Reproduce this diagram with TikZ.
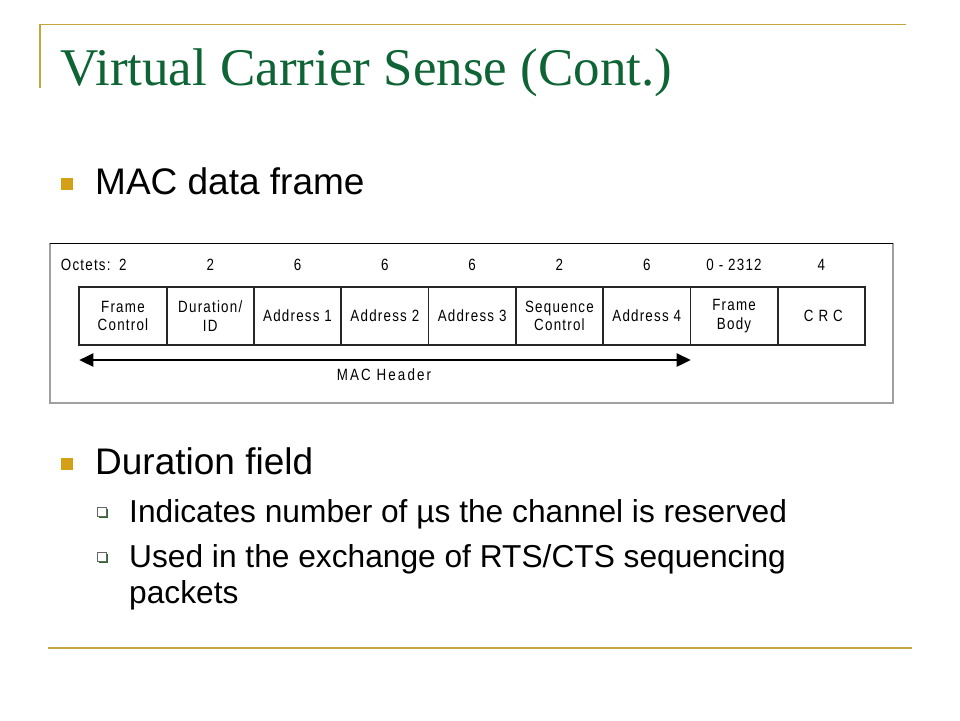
\documentclass[tikz,border=0pt]{standalone}
\usepackage{fontspec}
\setmainfont{Liberation Sans}
\newfontfamily\titlefont{Liberation Serif}
\newfontfamily\diagfont[FakeStretch=0.82,LetterSpace=7.5]{Liberation Sans}
\newfontfamily\diagwide[FakeStretch=0.82,LetterSpace=13]{Liberation Sans}
\newfontfamily\diagxwide[FakeStretch=0.82,LetterSpace=30]{Liberation Sans}
\usetikzlibrary{arrows.meta}
\definecolor{titlegreen}{RGB}{14,100,52}
\definecolor{goldline}{RGB}{196,166,58}
\definecolor{goldbullet}{RGB}{212,160,23}
\definecolor{subgreen}{RGB}{40,110,40}
\definecolor{framegray}{RGB}{160,160,160}
\tikzset{
  txt/.style={inner sep=0pt, anchor=base west},
  mainline/.style={txt, font=\fontsize{37}{44}\selectfont},
  subline/.style={txt, font=\fontsize{31.7}{38}\selectfont},
  cell/.style={draw=black!85, line width=1.8pt, minimum width=87.3pt, minimum height=58.5pt,
    inner sep=0pt, align=center, font=\diagfont\fontsize{16.3}{18.6}\selectfont},
  num/.style={inner sep=0pt, anchor=base, font=\diagfont\fontsize{16.3}{18.6}\selectfont},
  goldsq/.style={fill=goldbullet, draw=none},
  rule/.style={draw=goldline, line width=1.9pt}
}
\begin{document}
\begin{tikzpicture}[x=1pt,y=-1pt]
\useasboundingbox (0,0) rectangle (960,720);
\fill[white] (0,0) rectangle (960,720);
% title rules
\coordinate (tl) at (40,24.5);
\coordinate (tr) at (906,24.5);
\coordinate (tb) at (40,88);
\draw[rule] (tr) -- (tl) -- (tb);
\coordinate (bl) at (48,648);
\coordinate (br) at (912,648);
\draw[rule] (bl) -- (br);
% title
\node[txt, font=\titlefont\fontsize{53}{60}\selectfont, text=titlegreen] (title) at (60,85) {Virtual Carrier Sense (Cont.)};
% bullet 1
\fill[goldsq] (60.5,177.5) rectangle (73,190);
\node[mainline] (b1) at (95,194) {MAC data frame};
% diagram frame
\coordinate (fTL) at (50,243);
\coordinate (fTR) at (893,243);
\coordinate (fBR) at (893,403);
\coordinate (fBL) at (50,403);
\draw[framegray, line width=1.2pt] (fTL) -- (fBL) -- (fBR) -- (fTR);
\draw[black, line width=0.9pt] (fTL) -- (fTR);
% octets row
\node[txt, font=\diagfont\fontsize{16.3}{18.6}\selectfont] (oct) at (60.7,270) {Octets:};
% cells
\foreach \i/\t/\n in {1/{Frame\\Control}/2, 2/{Duration/\\ID}/2, 3/{Address 1}/6, 4/{Address 2}/6, 5/{Address 3}/6, 6/{Sequence\\Control}/2, 7/{Address 4}/6, 8/{Frame\\Body}/{0 - 2312}, 9/{\diagxwide CRC\kern-4pt}/4}{
  \node[cell] (c\i) at ({79.3+87.3*(\i-0.5)},316) {\t};
  \node[num] (n\i) at ({79.3+87.3*(\i-0.5)},270) {\n};
}
% MAC header arrow
\coordinate (aL) at (79.3,360);
\coordinate (aR) at (690.7,360);
\draw[line width=2.6pt, {Triangle[length=14pt,width=13pt]}-{Triangle[length=14pt,width=13pt]}] (aL) -- (aR);
\node[num, font=\diagwide\fontsize{16.3}{18.6}\selectfont] (mh) at (384,380.5) {MAC Header};
% bullet 2
\fill[goldsq] (60.5,457.5) rectangle (73,470);
\node[mainline] (b2) at (95,474.5) {Duration field};
% sub bullets
\fill[subgreen] (98.5,508.5) rectangle (108,518);
\filldraw[fill=white, draw=black!60, line width=0.5pt] (97,507) rectangle (106.5,516.5);
\node[subline] (s1) at (129,522) {Indicates number of µs the channel is reserved};
\fill[subgreen] (98.5,553.5) rectangle (108,563);
\filldraw[fill=white, draw=black!60, line width=0.5pt] (97,552) rectangle (106.5,561.5);
\node[subline] (s2) at (129,567.5) {Used in the exchange of RTS/CTS sequencing};
\node[subline] (s3) at (129,603) {packets};
\end{tikzpicture}
\end{document}
